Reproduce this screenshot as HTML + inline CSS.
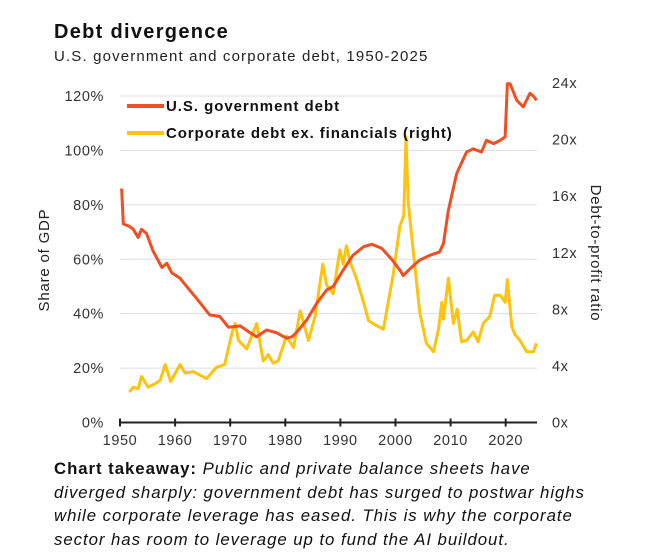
<!DOCTYPE html>
<html><head><meta charset="utf-8"><style>
body{margin:0;background:#fff;font-family:"Liberation Sans",sans-serif;}
#wrap{position:relative;width:646px;height:559px;overflow:hidden;}
.t{position:absolute;white-space:nowrap;color:#111;}
</style></head><body>
<div id="wrap">
<div class="t" style="left:54px;top:21px;font-size:20px;font-weight:bold;letter-spacing:1.3px;">Debt divergence</div>
<div class="t" style="left:54px;top:48px;font-size:15px;color:#222;letter-spacing:1.15px;">U.S. government and corporate debt, 1950-2025</div>
<svg id="chart" width="646" height="450" style="position:absolute;left:0;top:0"></svg>
<div class="t" style="left:54px;top:457px;font-size:16.8px;line-height:23.7px;color:#111;letter-spacing:0.95px;"><b style="font-style:normal">Chart takeaway:</b> <i>Public and private balance sheets have<br>diverged sharply: government debt has surged to postwar highs<br>while corporate leverage has eased. This is why the corporate<br>sector has room to leverage up to fund the AI buildout.</i></div>
</div>
<script>
const govYears=[1950.3,1950.6,1951.8,1952.4,1953.3,1953.9,1954.8,1956,1957.6,1958.5,1959.4,1960.9,1962.1,1963.9,1966.3,1968.1,1969.7,1971.8,1973.6,1974.8,1976.6,1978.4,1980.2,1981.2,1982,1983.9,1985.7,1987.5,1988.7,1990.5,1992.3,1994.2,1995.7,1997.5,1999.3,2000.8,2001.4,2002.9,2004.4,2006.3,2008,2008.7,2009.6,2011.1,2012.9,2014.1,2015.6,2016.5,2017.8,2019,2019.9,2020.3,2020.8,2022,2023.2,2024.4,2025,2025.6];
const govValues=[86,73,72,71,68,71,69.5,63,57,58.5,55,53,50,45.6,39.5,39,35,35.5,33,31.5,34,33,31,31.5,33,37.7,43.8,48.7,50,56,61.5,64.6,65.5,64,60,56,54,57,59.7,61.5,62.7,65.8,78,91.5,99.4,100.6,99.4,103.7,102.5,103.7,105,124.5,124.5,118.4,116,121,120,118.4];
const corpYears=[1951.7,1952.4,1953.3,1953.9,1955.1,1956.4,1957.3,1958.2,1959.2,1960.9,1961.8,1963.3,1965.7,1967.5,1969,1970.3,1970.9,1971.5,1973,1974.8,1976,1976.9,1977.8,1978.7,1980.2,1981.5,1982.7,1984.2,1985.4,1986.8,1987.5,1988.7,1989.9,1990.5,1991.1,1991.7,1992.9,1994.2,1995.1,1996.3,1997.8,1998.4,1999.6,2000.8,2001.5,2001.9,2002.3,2003.2,2004.4,2005.6,2006.9,2007.8,2008.4,2008.7,2009.6,2010.5,2011.2,2012,2012.9,2014.1,2015,2015.9,2017.1,2018,2019,2019.9,2020.3,2021.1,2021.7,2022.6,2023.8,2025,2025.6];
const corpValues=[2.15,2.5,2.4,3.25,2.5,2.75,3.0,4.1,2.9,4.1,3.5,3.6,3.1,3.9,4.1,6.3,7.0,5.8,5.2,7.0,4.35,4.8,4.2,4.35,6.1,5.3,7.9,5.8,7.5,11.2,9.7,9.1,12.2,11.2,12.5,11.4,10.2,8.5,7.2,6.9,6.6,7.9,10.5,13.9,14.6,20.2,15.6,12.2,7.8,5.6,5.0,6.6,8.5,7.3,10.2,7.0,8.0,5.7,5.8,6.4,5.7,7.0,7.5,9.0,9.0,8.5,10.1,6.8,6.2,5.8,5.0,5.0,5.6];
const xTicks=[1950,1960,1970,1980,1990,2000,2010,2020];
const leftTicks=[0,20,40,60,80,100,120];
const rightTicks=[0,4,8,12,16,20,24];

const NS='http://www.w3.org/2000/svg';
const svg=document.getElementById('chart');
const X0=120,PX=5.51,Y0=422.5;
const x=y=>X0+(y-1950)*PX;
const yL=v=>Y0-v*(326.5/120);
function yRight(v){return Y0-v*(339.5/24);}
function el(tag,attrs,parent){const e=document.createElementNS(NS,tag);for(const k in attrs)e.setAttribute(k,attrs[k]);(parent||svg).appendChild(e);return e;}

leftTicks.forEach(v=>{
  if(v>0){const g=el('line',{x1:120,x2:537,y1:yL(v),y2:yL(v),stroke:'#dcdce4','stroke-width':1});
  
  }
  const t=el('text',{x:104,y:yL(v)+5,'text-anchor':'end','font-size':14.5,fill:'#333','font-family':'Liberation Sans, sans-serif','letter-spacing':0.6});
  t.textContent=v+'%';
  
  
});
rightTicks.forEach(v=>{
  const t=el('text',{x:552,y:yRight(v)+5,'font-size':14.5,fill:'#333','font-family':'Liberation Sans, sans-serif','letter-spacing':0.6});
  t.textContent=v+'x';
  
  
});
const ax=el('line',{x1:119,x2:537,y1:Y0,y2:Y0,stroke:'#222','stroke-width':2});


xTicks.forEach(yr=>{
  const tk=el('line',{x1:x(yr),x2:x(yr),y1:Y0-4,y2:Y0+4,stroke:'#222','stroke-width':2});
  
  
  const t=el('text',{x:x(yr),y:445,'text-anchor':'middle','font-size':14.5,fill:'#333','font-family':'Liberation Sans, sans-serif','letter-spacing':0.6});
  t.textContent=yr;
  
  
});
const lt=el('text',{transform:'translate(49,260) rotate(-90)','text-anchor':'middle','font-size':15,fill:'#222','font-family':'Liberation Sans, sans-serif','letter-spacing':0.8});
lt.textContent='Share of GDP';


const rt=el('text',{transform:'translate(591,253) rotate(90)','text-anchor':'middle','font-size':15,fill:'#222','font-family':'Liberation Sans, sans-serif','letter-spacing':0.8});
rt.textContent='Debt-to-profit ratio';



const corp=el('polyline',{points:corpYears.map((yr,i)=>x(yr)+','+yRight(corpValues[i])).join(' '),fill:'none',stroke:'#ffc20e','stroke-width':3,'stroke-linejoin':'round'});


const gov=el('polyline',{points:govYears.map((yr,i)=>x(yr)+','+yL(govValues[i])).join(' '),fill:'none',stroke:'#f04e23','stroke-width':3,'stroke-linejoin':'round'});



const l1=el('line',{x1:127,x2:164,y1:106,y2:106,stroke:'#f04e23','stroke-width':4});


const t1=el('text',{x:166,y:111,'font-size':15,'font-weight':'bold',fill:'#111','font-family':'Liberation Sans, sans-serif','letter-spacing':0.95});
t1.textContent='U.S. government debt';


const l2=el('line',{x1:127,x2:164,y1:133,y2:133,stroke:'#ffc20e','stroke-width':4});


const t2=el('text',{x:166,y:138,'font-size':15,'font-weight':'bold',fill:'#111','font-family':'Liberation Sans, sans-serif','letter-spacing':0.9});
t2.textContent='Corporate debt ex. financials (right)';


</script>
</body></html>
